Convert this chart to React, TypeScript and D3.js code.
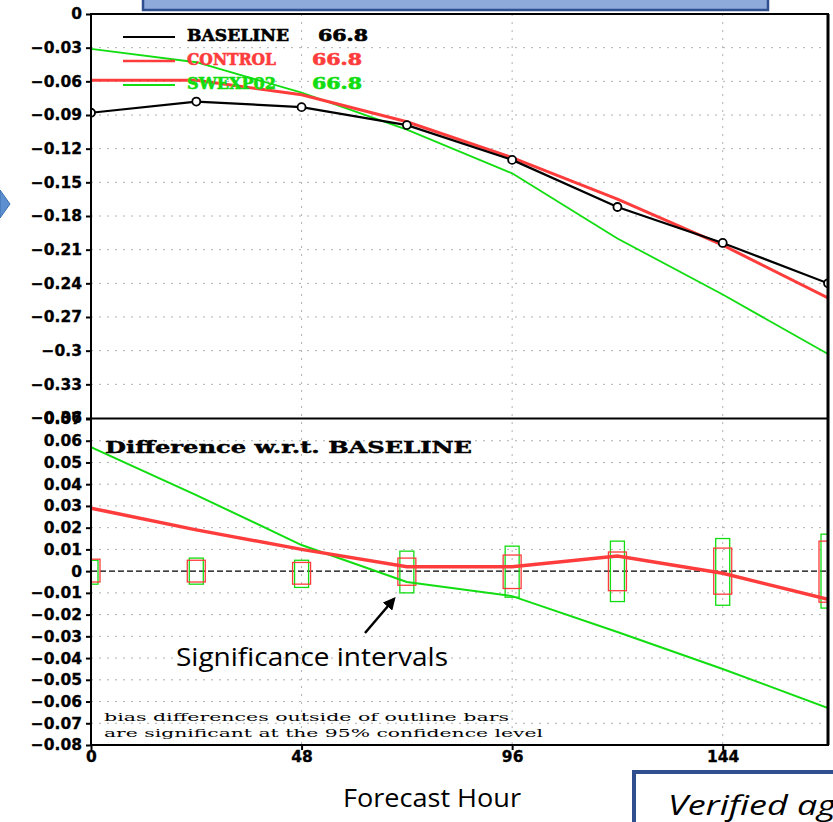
import React from "react";
import * as d3 from "d3";

// forecast hours (every 24h)
const hours = [0, 24, 48, 72, 96, 120, 144, 168];

// top panel: bias
const baseline = [-0.088, -0.078, -0.083, -0.099, -0.130, -0.172, -0.204, -0.240];
const control = [-0.059, -0.059, -0.072, -0.096, -0.128, -0.165, -0.206, -0.253];
const swexp02 = [-0.031, -0.043, -0.070, -0.103, -0.142, -0.200, -0.250, -0.303];

// bottom panel: difference w.r.t. baseline
const controlDiff = [0.029, 0.019, 0.010, 0.002, 0.002, 0.007, -0.001, -0.013];
const swexpDiff = [0.057, 0.035, 0.012, -0.005, -0.0115, -0.028, -0.045, -0.063];

// significance intervals (lower, upper)
const controlSigLo = [-0.005, -0.005, -0.006, -0.0065, -0.008, -0.009, -0.0106, -0.0143];
const controlSigHi = [0.0055, 0.005, 0.004, 0.006, 0.0074, 0.0088, 0.0106, 0.0138];
const swexpSigLo = [-0.006, -0.006, -0.0075, -0.010, -0.012, -0.014, -0.0157, -0.017];
const swexpSigHi = [0.005, 0.006, 0.005, 0.0092, 0.0115, 0.0138, 0.015, 0.017];

const topTicks = [0, -0.03, -0.06, -0.09, -0.12, -0.15, -0.18, -0.21, -0.24, -0.27, -0.3, -0.33, -0.36];
const bottomTicks = [0.07, 0.06, 0.05, 0.04, 0.03, 0.02, 0.01, 0, -0.01, -0.02, -0.03, -0.04, -0.05, -0.06, -0.07, -0.08];
const xTicks = [0, 48, 96, 144];

const legend = [
  { name: "BASELINE", value: "66.8", color: "#000000" },
  { name: "CONTROL", value: "66.8", color: "#ff3c3c" },
  { name: "SWEXP02", value: "66.8", color: "#11dd11" },
];

const RED = "#ff3c3c";
const GREEN = "#11dd11";
const GRADS = "'DejaVu Serif', serif";
const TICKF = "'DejaVu Sans', sans-serif";
const SLIDE = "'Open Sans', 'Liberation Sans', sans-serif";

const fmt = (v: number) => {
  const s = String(+v.toFixed(2));
  return s.replace("-", "\u2212");
};

const App = () => {
  const ref = React.useRef<SVGSVGElement>(null);

  React.useEffect(() => {
    const svg = d3.select(ref.current);
    svg.selectAll("*").remove();

    const left = 91, right = 828;
    const x = d3.scaleLinear().domain([0, 168]).range([left, right]);
    const yTop = d3.scaleLinear().domain([0, -0.36]).range([14, 418]);
    const yBot = d3.scaleLinear().domain([0.07, -0.08]).range([419, 745]);

    const defs = svg.append("defs");
    defs.append("clipPath").attr("id", "clipTop")
      .append("rect").attr("x", left).attr("y", 14).attr("width", right - left).attr("height", 404);
    defs.append("clipPath").attr("id", "clipBot")
      .append("rect").attr("x", left).attr("y", 419).attr("width", right - left).attr("height", 326);
    defs.append("marker").attr("id", "arrowHead")
      .attr("viewBox", "0 0 10 10").attr("refX", 8).attr("refY", 5)
      .attr("markerWidth", 5).attr("markerHeight", 5).attr("orient", "auto")
      .append("path").attr("d", "M0,0 L10,5 L0,10 Z").attr("fill", "#000");

    // title box (cut off at the top)
    svg.append("rect")
      .attr("x", 143).attr("y", -30).attr("width", 625).attr("height", 40)
      .attr("fill", "#8eaadb").attr("stroke", "#2f4f8f").attr("stroke-width", 2.5);

    // left arrow tip
    svg.append("path")
      .attr("d", "M0,190 L10,204 L0,218 Z")
      .attr("fill", "#5b8fd0").attr("stroke", "#3b6fb0").attr("stroke-width", 1);

    // grid
    const grid = svg.append("g")
      .attr("stroke", "#b0b0b0").attr("stroke-width", 1).attr("stroke-dasharray", "2,6");
    grid.selectAll(".gt").data(topTicks.slice(1, -1)).enter().append("line")
      .attr("x1", left).attr("x2", right)
      .attr("y1", d => yTop(d)).attr("y2", d => yTop(d));
    grid.selectAll(".gb").data(bottomTicks.slice(1, -1).filter(d => d !== 0)).enter().append("line")
      .attr("x1", left).attr("x2", right)
      .attr("y1", d => yBot(d)).attr("y2", d => yBot(d));
    grid.selectAll(".gx").data(xTicks.slice(1)).enter().append("line")
      .attr("x1", d => x(d)).attr("x2", d => x(d))
      .attr("y1", 14).attr("y2", 745);

    // zero line in bottom panel
    svg.append("line")
      .attr("x1", left).attr("x2", right).attr("y1", yBot(0)).attr("y2", yBot(0))
      .attr("stroke", "#000").attr("stroke-width", 1.3).attr("stroke-dasharray", "6,3");

    // ---- top panel lines
    const topG = svg.append("g").attr("clip-path", "url(#clipTop)");
    const lineTop = (vals: number[]) =>
      d3.line<number>().x((_, i) => x(hours[i])).y(d => yTop(d))(vals);

    topG.append("path").attr("d", lineTop(swexp02))
      .attr("fill", "none").attr("stroke", GREEN).attr("stroke-width", 1.8);
    topG.append("path").attr("d", lineTop(control))
      .attr("fill", "none").attr("stroke", RED).attr("stroke-width", 3);
    topG.append("path").attr("d", lineTop(baseline))
      .attr("fill", "none").attr("stroke", "#000").attr("stroke-width", 2.2);
    topG.selectAll("circle").data(baseline).enter().append("circle")
      .attr("cx", (_, i) => x(hours[i])).attr("cy", d => yTop(d)).attr("r", 4)
      .attr("fill", "#fff").attr("stroke", "#000").attr("stroke-width", 1.8);

    // legend
    const leg = svg.append("g");
    legend.forEach((l, i) => {
      const ly = 35 + i * 24;
      leg.append("line")
        .attr("x1", 123).attr("x2", 175).attr("y1", ly + 2).attr("y2", ly + 2)
        .attr("stroke", l.color).attr("stroke-width", i === 1 ? 2.5 : 2);
      leg.append("text").text(l.name)
        .attr("x", 187).attr("y", ly + 6)
        .attr("textLength", l.name.length * 13 - 2).attr("lengthAdjust", "spacingAndGlyphs")
        .style("font-family", GRADS).style("font-weight", "bold").style("font-size", "16px")
        .style("fill", l.color).style("stroke", l.color).style("stroke-width", 0.6);
      leg.append("text").text(l.value)
        .attr("x", i === 0 ? 318 : 312).attr("y", ly + 6)
        .attr("textLength", 50).attr("lengthAdjust", "spacingAndGlyphs")
        .style("font-family", GRADS).style("font-weight", "bold").style("font-size", "16px")
        .style("fill", l.color).style("stroke", l.color).style("stroke-width", 0.6);
    });

    // ---- bottom panel
    const botG = svg.append("g").attr("clip-path", "url(#clipBot)");
    const sigBoxes = (lo: number[], hi: number[], half: number, color: string) => {
      botG.selectAll(null).data(hours).enter().append("rect")
        .attr("x", d => x(d) - half).attr("width", half * 2)
        .attr("y", (_, i) => yBot(hi[i])).attr("height", (_, i) => yBot(lo[i]) - yBot(hi[i]))
        .attr("fill", "none").attr("stroke", color).attr("stroke-width", 1.3);
    };
    sigBoxes(swexpSigLo, swexpSigHi, 7, GREEN);
    sigBoxes(controlSigLo, controlSigHi, 9, RED);

    const lineBot = (vals: number[]) =>
      d3.line<number>().x((_, i) => x(hours[i])).y(d => yBot(d))(vals);
    botG.append("path").attr("d", lineBot(swexpDiff))
      .attr("fill", "none").attr("stroke", GREEN).attr("stroke-width", 2);
    botG.append("path").attr("d", lineBot(controlDiff))
      .attr("fill", "none").attr("stroke", RED).attr("stroke-width", 3.5);

    svg.append("text").text("Difference w.r.t. BASELINE")
      .attr("x", 105).attr("y", 453)
      .attr("textLength", 367).attr("lengthAdjust", "spacingAndGlyphs")
      .style("font-family", GRADS).style("font-weight", "bold").style("font-size", "16px")
      .style("stroke", "#000").style("stroke-width", 0.4);
    svg.append("text").text("bias differences outside of outline bars")
      .attr("x", 104).attr("y", 721)
      .attr("textLength", 405).attr("lengthAdjust", "spacingAndGlyphs")
      .style("font-family", GRADS).style("font-size", "11.5px");
    svg.append("text").text("are significant at the 95% confidence level")
      .attr("x", 104).attr("y", 737)
      .attr("textLength", 439).attr("lengthAdjust", "spacingAndGlyphs")
      .style("font-family", GRADS).style("font-size", "11.5px");

    // ---- frames
    const frame = svg.append("g").attr("fill", "none").attr("stroke", "#000");
    frame.append("rect").attr("x", left).attr("y", 14).attr("width", right - left).attr("height", 731)
      .attr("stroke-width", 2);
    frame.append("line").attr("x1", right).attr("x2", right).attr("y1", 14).attr("y2", 745)
      .attr("stroke-width", 3);
    frame.append("line").attr("x1", left).attr("x2", right).attr("y1", 418.5).attr("y2", 418.5)
      .attr("stroke-width", 2);

    // axes
    const axisStyle = (g: d3.Selection<SVGGElement, unknown, null, undefined>) => {
      g.select(".domain").remove();
      g.selectAll(".tick line").attr("stroke", "#000").attr("stroke-width", 2);
      g.selectAll(".tick text")
        .style("font-family", TICKF).style("font-weight", "bold").style("font-size", "15.5px")
        .style("fill", "#000").style("stroke", "#000").style("stroke-width", 0.3);
    };
    svg.append("g").attr("transform", `translate(${left},0)`)
      .call(d3.axisLeft(yTop).tickValues(topTicks).tickFormat(d => fmt(+d)).tickSize(5).tickPadding(4))
      .call(axisStyle);
    svg.append("g").attr("transform", `translate(${left},0)`)
      .call(d3.axisLeft(yBot).tickValues(bottomTicks).tickFormat(d => fmt(+d)).tickSize(5).tickPadding(4))
      .call(axisStyle);
    svg.append("g").attr("transform", `translate(0,745)`)
      .call(d3.axisBottom(x).tickValues(xTicks).tickFormat(d => String(d)).tickSize(5).tickPadding(1))
      .call(axisStyle);

    // ---- slide annotations
    svg.append("text").text("Forecast Hour")
      .attr("x", 343).attr("y", 807)
      .attr("textLength", 178).attr("lengthAdjust", "spacingAndGlyphs")
      .style("font-family", SLIDE).style("font-size", "26px");
    svg.append("text").text("Significance intervals")
      .attr("x", 176).attr("y", 666)
      .attr("textLength", 272).attr("lengthAdjust", "spacingAndGlyphs")
      .style("font-family", SLIDE).style("font-size", "26px");
    svg.append("line")
      .attr("x1", 365).attr("y1", 633).attr("x2", 394).attr("y2", 599)
      .attr("stroke", "#000").attr("stroke-width", 2.5).attr("marker-end", "url(#arrowHead)");

    svg.append("rect")
      .attr("x", 634).attr("y", 772).attr("width", 240).attr("height", 80)
      .attr("fill", "#fff").attr("stroke", "#2f4f8f").attr("stroke-width", 4);
    svg.append("text").text("Verified ag")
      .attr("x", 668).attr("y", 815)
      .attr("textLength", 168).attr("lengthAdjust", "spacingAndGlyphs")
      .style("font-family", SLIDE).style("font-style", "italic")
      .style("font-size", "28px");
  }, []);

  return (
    <svg ref={ref} width={833} height={822}
      style={{ position: "absolute", left: 0, top: 0, background: "#fff" }} />
  );
};

export default App;
